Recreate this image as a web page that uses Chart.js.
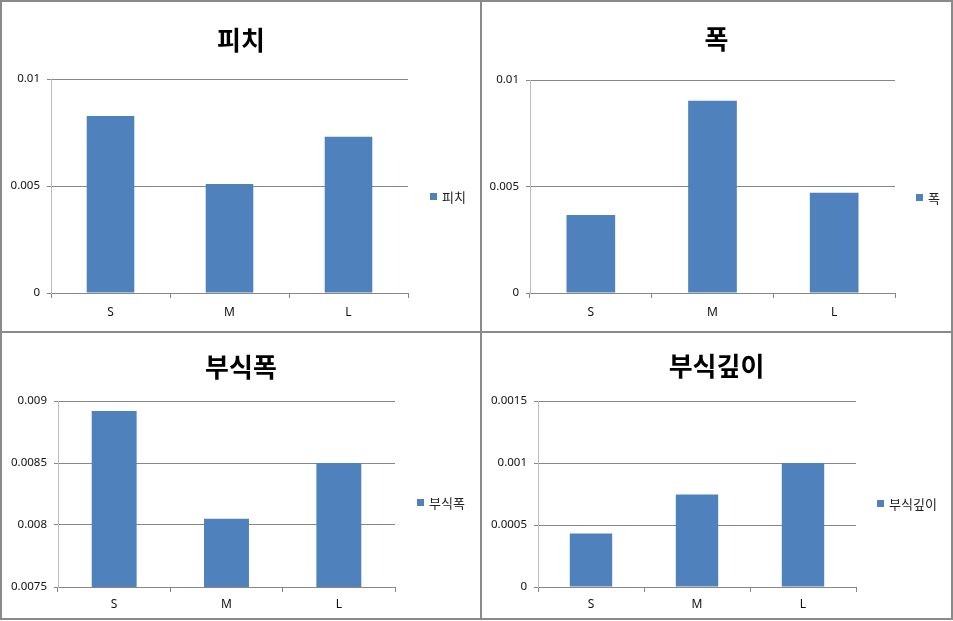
<!DOCTYPE html>
<html>
<head>
<meta charset="utf-8">
<script src="https://cdn.jsdelivr.net/npm/chart.js@4.4.1/dist/chart.umd.min.js"></script>
<style>
  body { margin: 0; background: #fff; }
  #frame { position: absolute; left: 0; top: 0; width: 949px; height: 616px; border: 2px solid #8a8a8a; }
  .vline { position: absolute; left: 480px; top: 0; width: 2px; height: 620px; background: #8a8a8a; }
  .hline { position: absolute; left: 0; top: 331px; width: 953px; height: 2px; background: #8a8a8a; }
  canvas { position: absolute; }
</style>
</head>
<body>
<div id="frame"></div>
<canvas id="c1" width="478" height="329" style="left:2px;top:2px"></canvas>
<canvas id="c2" width="469" height="329" style="left:482px;top:2px"></canvas>
<canvas id="c3" width="478" height="285" style="left:2px;top:333px"></canvas>
<canvas id="c4" width="469" height="285" style="left:482px;top:333px"></canvas>
<div class="vline"></div>
<div class="hline"></div>
<script>
// data
var categories = ['S', 'M', 'L'];
var pitch = [0.00827, 0.00509, 0.0073];          // 피치
var width = [0.00366, 0.00903, 0.00471];         // 폭
var corrWidth = [0.00892, 0.00805, 0.0085];      // 부식폭
var corrDepth = [0.000432, 0.000746, 0.001];     // 부식깊이

var barColor = '#4f81bd';
var gridColor = '#878787';

// title centred on the whole panel + excel style legend on the right
var excelBits = {
    id: 'excelBits',
    afterDraw: function(chart, args, opts) {
        var ctx = chart.ctx;
        var ds = chart.data.datasets[0];
        ctx.save();
        ctx.fillStyle = '#000';
        ctx.font = 'bold 26px "Noto Sans CJK KR"';
        ctx.textAlign = 'center';
        ctx.textBaseline = 'middle';
        ctx.fillText(ds.label, chart.width / 2, opts.titleY);

        ctx.textAlign = 'left';
        ctx.fillStyle = ds.backgroundColor;
        ctx.fillRect(opts.x, opts.y - 4, 7, 7);
        ctx.fillStyle = '#222';
        ctx.font = '13px "Noto Sans CJK KR"';
        ctx.fillText(ds.label, opts.x + 12, opts.y);
        ctx.restore();
    }
};

function fmt(v) {
    return parseFloat(v.toFixed(6)).toString();
}

function grafico(id, title, values, s) {
    var config = {
        type: 'bar',
        data: {
            labels: categories,
            datasets: [{
                label: title,
                data: values,
                backgroundColor: barColor,
                borderWidth: 0,
                barPercentage: 0.4,
                categoryPercentage: 1
            }]
        },
        options: {
            responsive: false,
            animation: false,
            layout: { padding: { left: 0, right: s.padRight, top: s.padTop, bottom: 0 } },
            plugins: {
                legend: { display: false },
                tooltip: { enabled: false },
                title: { display: false },
                excelBits: { x: s.legX, y: s.legY, titleY: s.titleY }
            },
            scales: {
                x: {
                    afterFit: function(scale) { scale.height = s.xHeight; },
                    grid: { drawOnChartArea: false, drawTicks: true, tickLength: 5, color: gridColor, offset: true },
                    border: { color: gridColor },
                    ticks: { color: '#111', font: { family: '"Noto Sans"', size: 12 }, padding: s.xPad }
                },
                y: {
                    min: s.min,
                    max: s.max,
                    afterFit: function(scale) { scale.width = s.yWidth; },
                    grid: { color: gridColor, tickLength: 4 },
                    border: { color: '#bdbdbd' },
                    ticks: {
                        stepSize: s.step,
                        color: '#111',
                        font: { family: '"Noto Sans"', size: 11.5 },
                        padding: 7,
                        callback: function(v) { return fmt(v); }
                    }
                }
            }
        },
        plugins: [excelBits]
    };
    return new Chart(document.getElementById(id), config);
}

grafico('c1', '피치', pitch, {
    min: 0, max: 0.01, step: 0.005,
    yWidth: 49, padRight: 72, padTop: 77, xHeight: 38, xPad: 7,
    titleY: 38, legX: 428, legY: 195
});
grafico('c2', '폭', width, {
    min: 0, max: 0.01, step: 0.005,
    yWidth: 48, padRight: 56, padTop: 78, xHeight: 38, xPad: 7,
    titleY: 37, legX: 434, legY: 196
});
grafico('c3', '부식폭', corrWidth, {
    min: 0.0075, max: 0.009, step: 0.0005,
    yWidth: 56, padRight: 85, padTop: 68, xHeight: 31, xPad: 5,
    titleY: 34, legX: 415, legY: 170
});
grafico('c4', '부식깊이', corrDepth, {
    min: 0, max: 0.0015, step: 0.0005,
    yWidth: 56, padRight: 95, padTop: 68, xHeight: 31, xPad: 5,
    titleY: 33, legX: 395, legY: 171
});
</script>
</body>
</html>
